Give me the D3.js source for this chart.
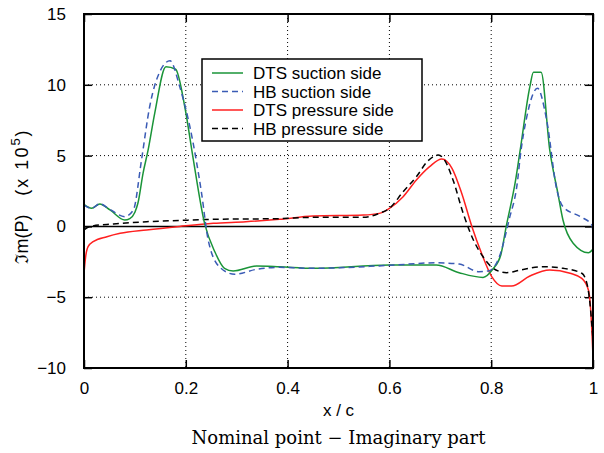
<!DOCTYPE html>
<html><head><meta charset="utf-8">
<script src="https://cdn.jsdelivr.net/npm/d3@7"></script>
<style>
body{margin:0;background:#fff;}
svg{display:block;}
text{font-family:"Liberation Sans",Arial,sans-serif;}
</style></head>
<body><svg id="c" width="604" height="453"></svg>
<script>
// ---- data ----
const xTicks = [0, 0.2, 0.4, 0.6, 0.8, 1];
const xTickLabels = ["0", "0.2", "0.4", "0.6", "0.8", "1"];
const yTicks = [-10, -5, 0, 5, 10, 15];
const yTickLabels = ["\u221210", "\u22125", "0", "5", "10", "15"];
const seriesNames = ["DTS suction side", "HB suction side", "DTS pressure side", "HB pressure side"];

const dtsSuction = [[0,1.56],[0.015,1.28],[0.031,1.58],[0.051,1.16],[0.08,0.45],[0.09,0.55],[0.1,1.0],[0.106,1.65],[0.116,3.75],[0.126,5.4],[0.139,8.0],[0.161,11.28],[0.18,11.1],[0.198,8.45],[0.214,4.9],[0.237,0.2],[0.257,-1.79],[0.276,-2.96],[0.293,-3.15],[0.339,-2.8],[0.384,-2.85],[0.45,-2.96],[0.6,-2.73],[0.692,-2.73],[0.737,-3.27],[0.784,-3.6],[0.803,-3.03],[0.819,-2.0],[0.829,-0.1],[0.848,3.28],[0.857,5.4],[0.876,9.87],[0.883,10.88],[0.898,10.88],[0.915,5.4],[0.931,2.34],[0.941,0.45],[0.961,-1.19],[0.991,-1.86],[1.0,-1.6]];
const hbSuction = [[0,1.5],[0.015,1.28],[0.031,1.6],[0.051,1.2],[0.08,0.69],[0.097,1.16],[0.113,4.7],[0.129,8.45],[0.149,10.93],[0.169,11.7],[0.188,9.87],[0.208,7.04],[0.231,2.34],[0.244,-0.96],[0.267,-2.89],[0.296,-3.38],[0.339,-3.03],[0.384,-2.89],[0.45,-2.96],[0.6,-2.75],[0.692,-2.57],[0.737,-2.66],[0.776,-3.2],[0.796,-3.13],[0.816,-2.14],[0.835,0.45],[0.852,3.28],[0.857,4.92],[0.870,7.75],[0.891,9.75],[0.909,7.5],[0.929,2.57],[0.941,1.39],[0.975,0.69],[0.998,0.1],[1.0,-0.47]];
const dtsPressure = [[0,-3.3],[0.003,-2.2],[0.008,-1.43],[0.018,-1.08],[0.045,-0.73],[0.071,-0.49],[0.123,-0.25],[0.188,0],[0.254,0.22],[0.318,0.33],[0.384,0.5],[0.45,0.73],[0.549,0.8],[0.58,0.92],[0.6,1.28],[0.627,2.1],[0.653,3.28],[0.679,4.22],[0.703,4.76],[0.723,4.1],[0.742,2.34],[0.762,0],[0.781,-1.9],[0.801,-3.55],[0.821,-4.21],[0.840,-4.21],[0.876,-3.5],[0.915,-3.08],[0.955,-3.31],[0.978,-3.67],[0.991,-4.49],[0.995,-5.67],[0.998,-7.55],[1.0,-9.2]];
const hbPressure = [[0,-0.25],[0.012,0],[0.058,0.17],[0.123,0.33],[0.188,0.42],[0.254,0.5],[0.384,0.55],[0.45,0.64],[0.549,0.64],[0.58,0.92],[0.6,1.28],[0.627,2.45],[0.653,3.51],[0.676,4.64],[0.696,5.04],[0.706,4.81],[0.725,3.28],[0.745,0.92],[0.765,-0.96],[0.784,-2.14],[0.804,-2.96],[0.830,-3.27],[0.857,-3.08],[0.902,-2.85],[0.941,-2.96],[0.978,-3.31],[0.988,-4.02],[0.994,-5.43],[0.998,-7.08],[1.0,-8.0]];

// ---- layout ----
const L = 84, R = 593, T = 14, B = 368;
const svg = d3.select("#c");
const x = d3.scaleLinear().domain([0, 1]).range([L, R]);
const y = d3.scaleLinear().domain([-10, 15]).range([B, T]);

// grid
const gx = xTicks.filter(v => v > 0 && v < 1);
const gy = yTicks.filter(v => v > -10 && v < 15 && v !== 0);
svg.append("g").selectAll("line").data(gx).join("line")
  .attr("x1", d => x(d)).attr("x2", d => x(d)).attr("y1", T).attr("y2", B)
  .attr("stroke", "#000").attr("stroke-width", 1).attr("stroke-dasharray", "1,3");
svg.append("g").selectAll("line").data(gy).join("line")
  .attr("x1", L).attr("x2", R).attr("y1", d => y(d)).attr("y2", d => y(d))
  .attr("stroke", "#000").attr("stroke-width", 1).attr("stroke-dasharray", "1,3");
// zero line
svg.append("line").attr("x1", L).attr("x2", R).attr("y1", y(0)).attr("y2", y(0))
  .attr("stroke", "#000").attr("stroke-width", 1.5);

// axes
const tf = (labels, ticks) => (d) => labels[ticks.indexOf(d)];
const axB = svg.append("g").attr("transform", `translate(0,${B})`)
  .call(d3.axisBottom(x).tickValues(xTicks).tickFormat(tf(xTickLabels, xTicks)).tickSizeInner(-8).tickSizeOuter(0).tickPadding(14));
const axT = svg.append("g").attr("transform", `translate(0,${T})`)
  .call(d3.axisTop(x).tickValues(xTicks).tickFormat("").tickSizeInner(-8).tickSizeOuter(0));
const axLf = svg.append("g").attr("transform", `translate(${L},0)`)
  .call(d3.axisLeft(y).tickValues(yTicks).tickFormat(tf(yTickLabels, yTicks)).tickSizeInner(-8).tickSizeOuter(0).tickPadding(18));
const axRt = svg.append("g").attr("transform", `translate(${R},0)`)
  .call(d3.axisRight(y).tickValues(yTicks).tickFormat("").tickSizeInner(-8).tickSizeOuter(0));
[axB, axT, axLf, axRt].forEach(g => {
  g.select(".domain").remove();
  g.selectAll(".tick line").attr("stroke", "#000").attr("stroke-width", 1.5);
  g.selectAll("text").attr("fill", "#000").style("font-size", "17px").style("font-family", '"Liberation Sans",Arial,sans-serif');
});

// series
const line = d3.line().x(d => x(d[0])).y(d => y(d[1])).curve(d3.curveMonotoneX);
const styles = [
  {data: dtsSuction, color: "#1a9438", dash: null},
  {data: hbSuction, color: "#3a5bb5", dash: "6,4"},
  {data: dtsPressure, color: "#ff2020", dash: null},
  {data: hbPressure, color: "#000", dash: "6,4"}
];
svg.append("clipPath").attr("id", "pc").append("rect")
  .attr("x", L).attr("y", T).attr("width", R - L).attr("height", B - T);
[2, 3, 0, 1].forEach(i => {
  const s = styles[i];
  svg.append("path").attr("d", line(s.data)).attr("fill", "none")
    .attr("stroke", s.color).attr("stroke-width", 1.5)
    .attr("stroke-dasharray", s.dash).attr("clip-path", "url(#pc)");
});

// border
svg.append("rect").attr("x", L).attr("y", T).attr("width", R - L).attr("height", B - T)
  .attr("fill", "none").attr("stroke", "#000").attr("stroke-width", 2);

// legend
const lg = svg.append("g");
lg.append("rect").attr("x", 202).attr("y", 59).attr("width", 220).attr("height", 82)
  .attr("fill", "#fff").attr("stroke", "#000").attr("stroke-width", 1.5);
styles.forEach((s, i) => {
  const cy = 73 + i * 18.5;
  lg.append("line").attr("x1", 212).attr("x2", 243).attr("y1", cy).attr("y2", cy)
    .attr("stroke", s.color).attr("stroke-width", 1.5).attr("stroke-dasharray", s.dash);
  lg.append("text").attr("x", 253).attr("y", cy + 6).text(seriesNames[i])
    .style("font-size", "17px").attr("fill", "#000");
});

// axis labels
svg.append("text").attr("x", (L + R) / 2).attr("y", 416).attr("text-anchor", "middle")
  .style("font-size", "17px").text("x / c");
// y label: two parts, reading bottom to top
const yl1 = svg.append("text").attr("transform", `translate(28,239) rotate(-90)`)
  .attr("text-anchor", "middle").style("font-size", "18px");
yl1.append("tspan").style("font-family", '"DejaVu Serif",serif').text("\u2111");
yl1.append("tspan").text("m(P)");
const yl2 = svg.append("text").attr("transform", `translate(28,162) rotate(-90)`)
  .attr("text-anchor", "middle").style("font-size", "18px").style("letter-spacing", "2px");
yl2.append("tspan").text("(x 10");
yl2.append("tspan").attr("dy", -8).style("font-size", "13px").text("5");
yl2.append("tspan").attr("dy", 8).text(")");
svg.append("text").attr("x", (L + R) / 2).attr("y", 444).attr("text-anchor", "middle")
  .style("font-family", '"DejaVu Serif","Liberation Serif",serif').style("font-size", "18px")
  .text("Nominal point \u2212 Imaginary part");
</script></body></html>
